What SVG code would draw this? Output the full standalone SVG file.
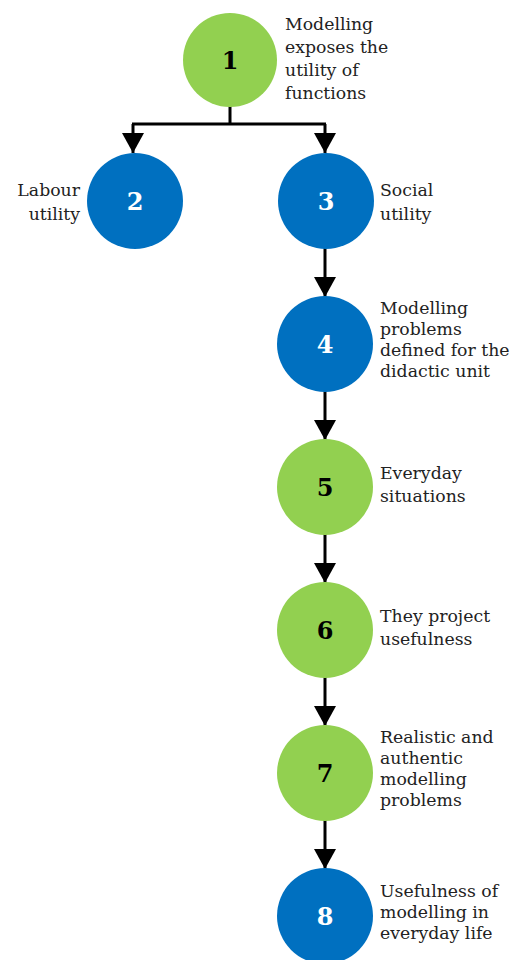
<svg xmlns="http://www.w3.org/2000/svg" width="513" height="960" viewBox="0 0 513 960">
<style>
.g{fill:#92D050}
.b{fill:#0070C0}
.num{font-family:"DejaVu Serif","Liberation Serif",serif;font-weight:bold;font-size:24px;text-anchor:middle}
.nb{fill:#000}
.nw{fill:#fff}
.lbl{font-family:"DejaVu Serif","Liberation Serif",serif;font-size:17.3px;fill:#222}
.c{stroke:#000;stroke-width:3;fill:none}
</style>
<defs>
<marker id="ah" markerUnits="userSpaceOnUse" markerWidth="22" markerHeight="22" viewBox="0 0 20 22" refX="20" refY="11" orient="auto">
<path d="M0,0 L20,11 L0,22 Z" fill="#000"/>
</marker>
</defs>
<rect width="513" height="960" fill="#fff"/>
<g id="connectors">
<path class="c" d="M230,105 V124"/>
<path class="c" d="M132,124 H326"/>
<path class="c" d="M133,124 V153" marker-end="url(#ah)"/>
<path class="c" d="M325,124 V153" marker-end="url(#ah)"/>
<path class="c" d="M325,248 V297" marker-end="url(#ah)"/>
<path class="c" d="M325,391 V440" marker-end="url(#ah)"/>
<path class="c" d="M325,534 V583" marker-end="url(#ah)"/>
<path class="c" d="M325,677 V726" marker-end="url(#ah)"/>
<path class="c" d="M325,820 V869" marker-end="url(#ah)"/>
</g>
<g id="n1"><circle class="g" cx="230" cy="60" r="47"/><text class="num nb" x="230" y="69">1</text>
<text class="lbl"><tspan x="285" y="30">Modelling</tspan><tspan x="285" y="53">exposes the</tspan><tspan x="285" y="76">utility of</tspan><tspan x="285" y="99">functions</tspan></text></g>
<g id="n2"><circle class="b" cx="135" cy="201" r="48"/><text class="num nw" x="135" y="210">2</text>
<text class="lbl" text-anchor="end"><tspan x="80" y="196">Labour</tspan><tspan x="80" y="220">utility</tspan></text></g>
<g id="n3"><circle class="b" cx="326" cy="201" r="48"/><text class="num nw" x="326" y="210">3</text>
<text class="lbl"><tspan x="380" y="196">Social</tspan><tspan x="380" y="220">utility</tspan></text></g>
<g id="n4"><circle class="b" cx="325" cy="344" r="48"/><text class="num nw" x="325" y="353">4</text>
<text class="lbl"><tspan x="380" y="314">Modelling</tspan><tspan x="380" y="335">problems</tspan><tspan x="380" y="356">defined for the</tspan><tspan x="380" y="377">didactic unit</tspan></text></g>
<g id="n5"><circle class="g" cx="325" cy="487" r="48"/><text class="num nb" x="325" y="496">5</text>
<text class="lbl"><tspan x="380" y="479">Everyday</tspan><tspan x="380" y="502">situations</tspan></text></g>
<g id="n6"><circle class="g" cx="325" cy="630" r="48"/><text class="num nb" x="325" y="639">6</text>
<text class="lbl"><tspan x="380" y="622">They project</tspan><tspan x="380" y="645">usefulness</tspan></text></g>
<g id="n7"><circle class="g" cx="325" cy="773" r="48"/><text class="num nb" x="325" y="782">7</text>
<text class="lbl"><tspan x="380" y="743">Realistic and</tspan><tspan x="380" y="764">authentic</tspan><tspan x="380" y="785">modelling</tspan><tspan x="380" y="806">problems</tspan></text></g>
<g id="n8"><circle class="b" cx="325" cy="916" r="48"/><text class="num nw" x="325" y="925">8</text>
<text class="lbl"><tspan x="380" y="897">Usefulness of</tspan><tspan x="380" y="918">modelling in</tspan><tspan x="380" y="939">everyday life</tspan></text></g>
</svg>
